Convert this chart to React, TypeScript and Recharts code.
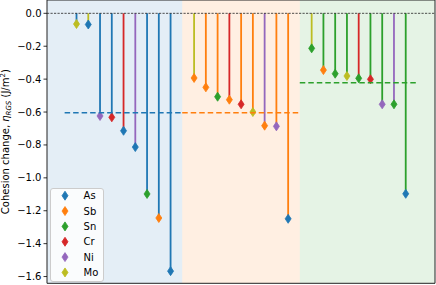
import React from "react";
import {
    ComposedChart,
    Bar,
    XAxis,
    YAxis,
    ReferenceArea,
    ReferenceLine,
    Legend,
    Label,
} from "recharts";

const COLORS: { [key: string]: string } = {
    As: "#1f77b4",
    Sb: "#ff7f0e",
    Sn: "#2ca02c",
    Cr: "#d62728",
    Ni: "#9467bd",
    Mo: "#bcbd22",
};

const elements = ["As", "Sb", "Sn", "Cr", "Ni", "Mo"];

// three groups of stems: stem colour and marker colour by element
const asValues = [-0.065, -0.068, -0.624, -0.632, -0.714, -0.813, -1.098, -1.244, -1.567];
const asStems = ["As", "Mo", "As", "As", "Cr", "Ni", "As", "As", "As"];
const asMarkers = ["Mo", "As", "Ni", "Cr", "As", "As", "Sn", "Sb", "As"];

const sbValues = [-0.393, -0.45, -0.507, -0.525, -0.553, -0.6, -0.683, -0.687, -1.249];
const sbStems = ["Mo", "Sb", "Sb", "Cr", "Sb", "Sb", "Ni", "Sb", "Sb"];
const sbMarkers = ["Sb", "Sb", "Sn", "Sb", "Cr", "Mo", "Sb", "Ni", "As"];

const snValues = [-0.213, -0.345, -0.367, -0.381, -0.395, -0.401, -0.553, -0.553, -1.097];
const snStems = ["Mo", "Sn", "Sn", "Sn", "Cr", "Sn", "Sn", "Ni", "Sn"];
const snMarkers = ["Sn", "Sb", "Sn", "Mo", "Sn", "Cr", "Ni", "Sn", "As"];

// group host, start position, span and mean line
const groupHosts = ["As", "Sb", "Sn"];
const groupStarts = [0, 10, 20];
const spanEdges = [-2.5, 9, 19, 30.5];
const meanEdges = [-1, 9, 19, 29];
const groupMeans = [-0.605, -0.605, -0.422];

const yTicks = [0, -0.2, -0.4, -0.6, -0.8, -1.0, -1.2, -1.4, -1.6];
const xDomain: [number, number] = [-2.5, 30.5];
const yDomain: [number, number] = [-1.641, 0.081];

const FONT = "DejaVu Sans";

function buildRows() {
    const groups = [
        [asValues, asStems, asMarkers],
        [sbValues, sbStems, sbMarkers],
        [snValues, snStems, snMarkers],
    ] as [number[], string[], string[]][];
    const rows: { x: number; value: number; stem: string; marker: string }[] = [];
    groups.forEach(([vals, stems, markers], g) => {
        vals.forEach((v, i) => {
            rows.push({ x: groupStarts[g] + i, value: v, stem: stems[i], marker: markers[i] });
        });
    });
    return rows;
}

const rows = buildRows();

function diamond(cx: number, cy: number, w: number, h: number) {
    return `M${cx},${cy - h / 2} L${cx + w / 2},${cy} L${cx},${cy + h / 2} L${cx - w / 2},${cy} Z`;
}

function StemShape(props: any) {
    const { x, y, width, height, payload } = props;
    const cx = x + width / 2;
    const top = Math.min(y, y + height);
    const bottom = Math.max(y, y + height);
    const sc = COLORS[payload.stem];
    const mc = COLORS[payload.marker];
    return (
        <g>
            <line x1={cx} x2={cx} y1={top} y2={bottom} stroke={sc} strokeWidth={1.8} />
            <path d={diamond(cx, bottom, 6, 9)} fill={mc} stroke={mc} strokeWidth={0.8} />
        </g>
    );
}

function YLabel(props: any) {
    const vb = props.viewBox;
    const cx = vb.x + 9.5;
    const cy = vb.y + vb.height / 2;
    return (
        <text
            x={cx}
            y={cy}
            transform={`rotate(-90 ${cx} ${cy})`}
            textAnchor="middle"
            fontFamily={FONT}
            fontSize={10}
            fill="#000"
        >
            Cohesion change,{" "}
            <tspan fontStyle="italic">η</tspan>
            <tspan fontSize={7} fontStyle="italic" dy={1.5}>RGS</tspan>
            <tspan dy={-1.5}> (J/m</tspan>
            <tspan fontSize={7} dy={-4}>2</tspan>
            <tspan dy={4}>)</tspan>
        </text>
    );
}

function LegendBox() {
    return (
        <svg width={55} height={95}>
            <rect x={0.5} y={0.5} width={53} height={93} rx={2.5} fill="#fff" fillOpacity={0.8} stroke="#ccc" strokeWidth={1} />
            {elements.map((el, i) => {
                const cy = 7.7 + i * 15.35;
                return (
                    <g key={el}>
                        <path d={diamond(15, cy, 6, 9)} fill={COLORS[el]} stroke={COLORS[el]} strokeWidth={0.8} />
                        <text x={33.6} y={cy + 3.6} fontFamily={FONT} fontSize={10} fill="#000">
                            {el}
                        </text>
                    </g>
                );
            })}
        </svg>
    );
}

export default function App() {
    return (
        <div style={{ position: "absolute", left: 0, top: 0 }}>
            <ComposedChart
                width={436}
                height={285}
                data={rows}
                margin={{ top: 0, right: 1, bottom: 1.7, left: 0 }}
            >
                <XAxis type="number" dataKey="x" domain={xDomain} hide />
                <YAxis
                    type="number"
                    domain={yDomain}
                    ticks={yTicks}
                    width={47}
                    allowDataOverflow
                    tickFormatter={(v: number) => v.toFixed(1).replace("-", "\u2212")}
                    tick={{ fontFamily: FONT, fontSize: 10, fill: "#000" }}
                    tickSize={3.5}
                    tickLine={{ stroke: "#000", strokeWidth: 0.8 }}
                    axisLine={false}
                >
                    <Label content={YLabel} />
                </YAxis>
                {groupHosts.map((h, g) => (
                    <ReferenceArea
                        key={"span" + h}
                        x1={spanEdges[g]}
                        x2={spanEdges[g + 1]}
                        fill={COLORS[h]}
                        fillOpacity={0.12}
                        stroke="none"
                        ifOverflow="extendDomain"
                    />
                ))}
                {groupHosts.map((h, g) => (
                    <ReferenceLine
                        key={"mean" + h}
                        segment={[
                            { x: meanEdges[g], y: groupMeans[g] },
                            { x: meanEdges[g + 1], y: groupMeans[g] },
                        ]}
                        stroke={COLORS[h]}
                        strokeWidth={1.5}
                        strokeDasharray="5.5 3"
                    />
                ))}
                <Bar
                    dataKey="value"
                    barSize={2}
                    shape={<StemShape />}
                    isAnimationActive={false}
                />
                <ReferenceLine y={0} stroke="#222" strokeWidth={0.8} strokeDasharray="2.2 1.3" />
                <ReferenceArea
                    x1={xDomain[0]}
                    x2={xDomain[1]}
                    y1={yDomain[0]}
                    y2={yDomain[1]}
                    fill="none"
                    stroke="#222"
                    strokeWidth={1}
                />
                <Legend
                    layout="vertical"
                    align="center"
                    verticalAlign="middle"
                    wrapperStyle={{ left: 50, top: 188, width: 55 }}
                    content={() => <LegendBox />}
                />
            </ComposedChart>
        </div>
    );
}
